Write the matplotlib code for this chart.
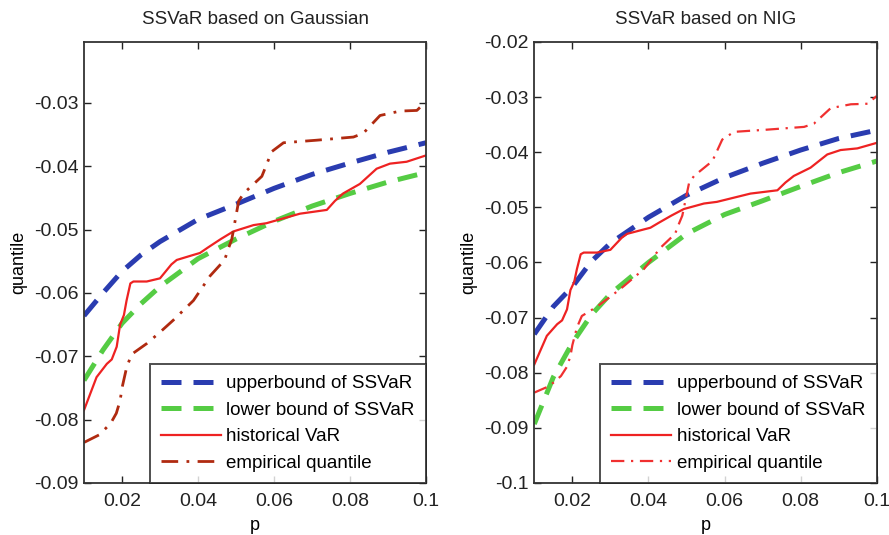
import numpy as np
import matplotlib
matplotlib.use("Agg")
import matplotlib.pyplot as plt

plt.rcParams['font.family'] = ['Liberation Sans', 'DejaVu Sans']

# --- data ---
p_grid = [0.01, 0.015, 0.02, 0.025, 0.03, 0.04, 0.05, 0.06, 0.07, 0.08, 0.09, 0.1]

# Gaussian based SSVaR bounds
gauss_upper = [-0.0636, -0.0600, -0.0566, -0.0540, -0.0519, -0.0484,
               -0.0460, -0.0435, -0.0413, -0.0395, -0.0378, -0.0363]
gauss_lower = [-0.0738, -0.0690, -0.0648, -0.0617, -0.0590, -0.0546,
               -0.0515, -0.0487, -0.0463, -0.0443, -0.0425, -0.0410]

# NIG based SSVaR bounds
nig_upper = [-0.0730, -0.0680, -0.0644, -0.0598, -0.0565, -0.0518,
             -0.0478, -0.0446, -0.0420, -0.0396, -0.0375, -0.0360]
nig_lower = [-0.0893, -0.0808, -0.0746, -0.0695, -0.0657, -0.0600,
             -0.0548, -0.0513, -0.0488, -0.0462, -0.0437, -0.0416]

# historical VaR (same in both panels)
hist_p = [0.0100, 0.0133, 0.0160, 0.0173, 0.0186, 0.0195, 0.0205, 0.0212,
          0.0222, 0.0230, 0.0265, 0.0300, 0.0330, 0.0344, 0.0388, 0.0405,
          0.0427, 0.0460, 0.0493, 0.0546, 0.0580, 0.0668, 0.0739, 0.0760,
          0.0782, 0.0826, 0.0870, 0.0905, 0.0949, 0.1000]
hist_q = [-0.0785, -0.0733, -0.0712, -0.0705, -0.0685, -0.0650, -0.0635, -0.0612,
          -0.0585, -0.0582, -0.0582, -0.0577, -0.0555, -0.0548, -0.0540, -0.0537,
          -0.0528, -0.0515, -0.0503, -0.0493, -0.0490, -0.0475, -0.0469, -0.0455,
          -0.0443, -0.0428, -0.0404, -0.0396, -0.0393, -0.0383]

# empirical quantile (same in both panels)
emp_p = [0.0100, 0.0140, 0.0170, 0.0185, 0.0195, 0.0200, 0.0212, 0.0225,
         0.0265, 0.0300, 0.0335, 0.0388, 0.0432, 0.0470, 0.0480, 0.0489,
         0.0498, 0.0507, 0.0520, 0.0568, 0.0594, 0.0625, 0.0712, 0.0809,
         0.0835, 0.0879, 0.0932, 0.0976, 0.1000]
emp_q = [-0.0836, -0.0824, -0.0806, -0.0790, -0.0770, -0.0750, -0.0718, -0.0697,
         -0.0680, -0.0662, -0.0643, -0.0612, -0.0573, -0.0548, -0.0530, -0.0515,
         -0.0485, -0.0455, -0.0443, -0.0416, -0.0377, -0.0363, -0.0359, -0.0354,
         -0.0348, -0.0320, -0.0313, -0.0312, -0.0298]

labels = ['upperbound of SSVaR', 'lower bound of SSVaR', 'historical VaR', 'empirical quantile']
x_ticks = [0.02, 0.04, 0.06, 0.08, 0.1]
x_ticklabels = ['0.02', '0.04', '0.06', '0.08', '0.1']

panels = [
    dict(title='SSVaR based on Gaussian', upper=gauss_upper, lower=gauss_lower,
         ylim=(-0.09, -0.0204), yticks=[-0.09, -0.08, -0.07, -0.06, -0.05, -0.04, -0.03],
         yticklabels=['-0.09', '-0.08', '-0.07', '-0.06', '-0.05', '-0.04', '-0.03'],
         emp_color='#B02A10', emp_lw=2.0, rect=[0.0945, 0.0972, 0.3847, 0.8243]),
    dict(title='SSVaR based on NIG', upper=nig_upper, lower=nig_lower,
         ylim=(-0.1, -0.02), yticks=[-0.1, -0.09, -0.08, -0.07, -0.06, -0.05, -0.04, -0.03, -0.02],
         yticklabels=['-0.1', '-0.09', '-0.08', '-0.07', '-0.06', '-0.05', '-0.04', '-0.03', '-0.02'],
         emp_color='#F03030', emp_lw=1.6, rect=[0.601, 0.0972, 0.3852, 0.8243]),
]

fig = plt.figure(figsize=(8.89, 5.35), dpi=100)
fig.patch.set_facecolor('white')

for cfg in panels:
    ax = fig.add_axes(cfg['rect'])
    ax.plot(p_grid, cfg['upper'], color='#2A3CB0', lw=3.6, dashes=(4, 2.4), label=labels[0])
    ax.plot(p_grid, cfg['lower'], color='#55CC44', lw=3.6, dashes=(4, 2.4), label=labels[1])
    ax.plot(hist_p, hist_q, color='#EE2222', lw=1.6, label=labels[2])
    ax.plot(emp_p, emp_q, color=cfg['emp_color'], lw=cfg['emp_lw'],
            dashes=(6, 3, 1, 3), label=labels[3])

    ax.set_xlim(0.01, 0.1)
    ax.set_ylim(*cfg['ylim'])
    ax.set_xticks(x_ticks)
    ax.set_xticklabels(x_ticklabels)
    ax.set_yticks(cfg['yticks'])
    ax.set_yticklabels(cfg['yticklabels'])
    ax.tick_params(direction='in', length=5, width=1.0, labelsize=14, colors='#222222',
                   top=True, right=True)
    ax.tick_params(axis='x', pad=7)
    ax.tick_params(axis='y', pad=4)
    for s in ax.spines.values():
        s.set_linewidth(1.3)
        s.set_color('#333333')

    ax.set_title(cfg['title'], fontsize=13.5, pad=13, color='#222222')
    ax.set_xlabel('p', fontsize=13, labelpad=5)
    ax.set_ylabel('quantile', fontsize=13, labelpad=5)

    leg = ax.legend(loc='lower right', bbox_to_anchor=(1.0, 0.0), borderaxespad=0,
                    fontsize=13.5, frameon=True, fancybox=False, handlelength=3.2,
                    handletextpad=0.3, labelspacing=0.5, borderpad=0.6)
    leg.get_frame().set_edgecolor('#222222')
    leg.get_frame().set_linewidth(1.4)

fig.savefig('out.png', dpi=100)
